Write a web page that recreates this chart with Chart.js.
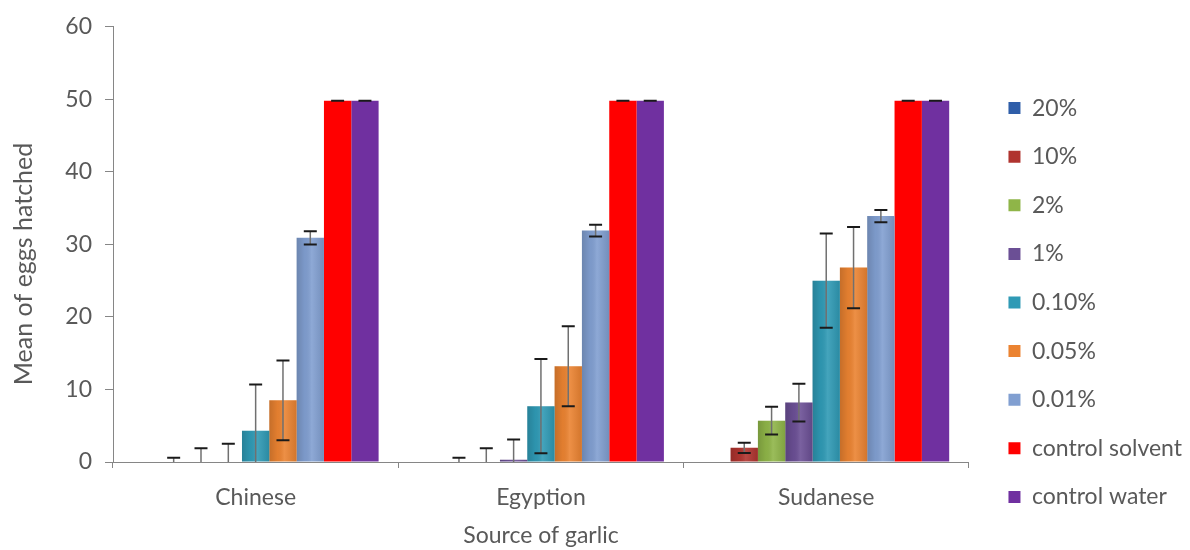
<!DOCTYPE html>
<html>
<head>
<meta charset="utf-8">
<title>Mean of eggs hatched by source of garlic</title>
<script src="https://cdn.jsdelivr.net/npm/chart.js@4.4.1/dist/chart.umd.min.js"></script>
<style>
  html, body { margin: 0; padding: 0; background: #fff; }
  #wrap { width: 1190px; height: 550px; }
</style>
</head>
<body>
<div id="wrap"><canvas id="eggChart" width="1190" height="550"></canvas></div>
<script>
// garlic sources on the x axis
const categories = ['Chinese', 'Egyption', 'Sudanese'];
const seriesNames = ['20%', '10%', '2%', '1%', '0.10%', '0.05%', '0.01%', 'control solvent', 'control water'];

// mean eggs hatched per concentration
const pct20 = [0, 0, 0];
const pct10 = [0, 0, 1.95];
const pct2 = [0, 0, 5.7];
const pct1 = [0, 0.3, 8.2];
const pct010 = [4.3, 7.7, 25.0];
const pct005 = [8.5, 13.2, 26.8];
const pct001 = [30.9, 31.9, 33.9];
const controlSolvent = [49.8, 49.8, 49.8];
const controlWater = [49.8, 49.8, 49.8];

// +/- error for each bar (null = no bar drawn)
const err20 = [null, null, null];
const err10 = [0.6, 0.6, 0.7];
const err2 = [1.9, 1.9, 1.9];
const err1 = [2.5, 2.8, 2.6];
const err010 = [6.4, 6.5, 6.5];
const err005 = [5.5, 5.5, 5.6];
const err001 = [0.9, 0.8, 0.85];
const errSolvent = [0, 0, 0];
const errWater = [0, 0, 0];

// y axis range
const yMin = 0;
const yMax = 60;
const yStep = 10;

const seriesValues = [pct20, pct10, pct2, pct1, pct010, pct005, pct001, controlSolvent, controlWater];
const seriesErrors = [err20, err10, err2, err1, err010, err005, err001, errSolvent, errWater];
const seriesColors = ['#2F5EA9', '#B0342F', '#8FB548', '#6B4F95', '#2F9AB5', '#EB8331', '#819FD1', '#FF0000', '#7030A0'];
// the two controls are flat fills, the rest get the shaded look
const shaded = [true, true, true, true, true, true, true, false, false];

const FONT = 'Lato, "Open Sans", sans-serif';
const TEXT_COLOR = '#595959';
const AXIS_COLOR = '#868686';
const legendFontSize = 23;
const legendPad = 25.6;
const legendBox = 12;

Chart.defaults.font.family = FONT;
Chart.defaults.font.size = 23;
Chart.defaults.color = TEXT_COLOR;

// soft dark-edge / light-centre shading over each bar
const barShade = {
    id: 'barShade',
    afterDatasetsDraw(chart) {
        const ctx = chart.ctx;
        chart.data.datasets.forEach((ds, di) => {
            if (!shaded[di]) return;
            const meta = chart.getDatasetMeta(di);
            if (meta.hidden) return;
            meta.data.forEach(bar => {
                const h = bar.base - bar.y;
                if (h <= 0) return;
                const x0 = bar.x - bar.width / 2;
                const g = ctx.createLinearGradient(x0, 0, x0 + bar.width, 0);
                g.addColorStop(0, 'rgba(0,0,0,0.16)');
                g.addColorStop(0.3, 'rgba(0,0,0,0.04)');
                g.addColorStop(0.55, 'rgba(255,255,255,0.10)');
                g.addColorStop(1, 'rgba(0,0,0,0.10)');
                ctx.fillStyle = g;
                ctx.fillRect(x0, bar.y, bar.width, h);
            });
        });
    }
};

// error bars: grey stem, dark caps
const errorBars = {
    id: 'errorBars',
    afterDatasetsDraw(chart) {
        const ctx = chart.ctx;
        const y = chart.scales.y;
        const area = chart.chartArea;
        ctx.save();
        ctx.beginPath();
        ctx.rect(area.left, area.top - 10, area.right - area.left, area.bottom - area.top + 10);
        ctx.clip();
        chart.data.datasets.forEach((ds, di) => {
            const meta = chart.getDatasetMeta(di);
            if (meta.hidden) return;
            meta.data.forEach((bar, i) => {
                const e = ds.errors[i];
                if (e === null || e === undefined) return;
                const v = ds.data[i];
                const top = y.getPixelForValue(v + e);
                const bot = y.getPixelForValue(v - e);
                ctx.lineWidth = 1.5;
                ctx.strokeStyle = '#707070';
                ctx.beginPath();
                ctx.moveTo(bar.x, top);
                ctx.lineTo(bar.x, bot);
                ctx.stroke();
                ctx.strokeStyle = '#1a1a1a';
                ctx.lineWidth = 2;
                ctx.beginPath();
                ctx.moveTo(bar.x - 6.5, top);
                ctx.lineTo(bar.x + 6.5, top);
                ctx.moveTo(bar.x - 6.5, bot);
                ctx.lineTo(bar.x + 6.5, bot);
                ctx.stroke();
            });
        });
        ctx.restore();
    }
};

// move the legend block down/right next to the plot
const legendNudge = {
    id: 'legendNudge',
    afterLayout(chart) {
        const lg = chart.legend;
        lg.left += 14;
        lg.right = chart.width;
        lg.top += 16;
        lg.bottom += 16;
    }
};

// rotated y axis title
const yTitle = {
    id: 'yTitle',
    afterDraw(chart) {
        const ctx = chart.ctx;
        ctx.save();
        ctx.translate(24, 264);
        ctx.rotate(-Math.PI / 2);
        ctx.font = '25px ' + FONT;
        ctx.fillStyle = TEXT_COLOR;
        ctx.textAlign = 'center';
        ctx.textBaseline = 'middle';
        ctx.fillText('Mean of eggs hatched', 0, 0);
        ctx.restore();
    }
};

const datasets = seriesNames.map((name, k) => ({
    label: name,
    data: seriesValues[k],
    errors: seriesErrors[k],
    backgroundColor: seriesColors[k],
    borderWidth: 0,
    categoryPercentage: 0.862,
    barPercentage: 1
}));

const chart = new Chart(document.getElementById('eggChart'), {
    type: 'bar',
    data: { labels: categories, datasets: datasets },
    options: {
        responsive: false,
        animation: false,
        devicePixelRatio: 1,
        layout: { padding: { top: 23, right: 12, bottom: 0, left: 0 } },
        plugins: {
            tooltip: { enabled: false },
            legend: {
                position: 'right',
                labels: {
                    boxWidth: legendBox,
                    boxHeight: legendBox,
                    padding: legendPad,
                    color: TEXT_COLOR,
                    font: { size: legendFontSize }
                }
            }
        },
        scales: {
            x: {
                grid: { offset: true, drawOnChartArea: false, tickLength: 6, color: AXIS_COLOR },
                border: { color: AXIS_COLOR },
                ticks: { padding: 16, color: TEXT_COLOR, font: { size: 23 } },
                title: { display: true, text: 'Source of garlic', color: TEXT_COLOR, font: { size: 23 }, padding: { top: 0, bottom: 1 } },
                afterFit(scale) { scale.height = 88; }
            },
            y: {
                min: yMin,
                max: yMax,
                grid: { drawOnChartArea: false, tickLength: 8, color: AXIS_COLOR },
                border: { color: AXIS_COLOR },
                ticks: { stepSize: yStep, padding: 13, color: TEXT_COLOR, font: { size: 23 } },
                afterFit(scale) { scale.width = 113; }
            }
        }
    },
    plugins: [barShade, errorBars, legendNudge, yTitle]
});
</script>
</body>
</html>
